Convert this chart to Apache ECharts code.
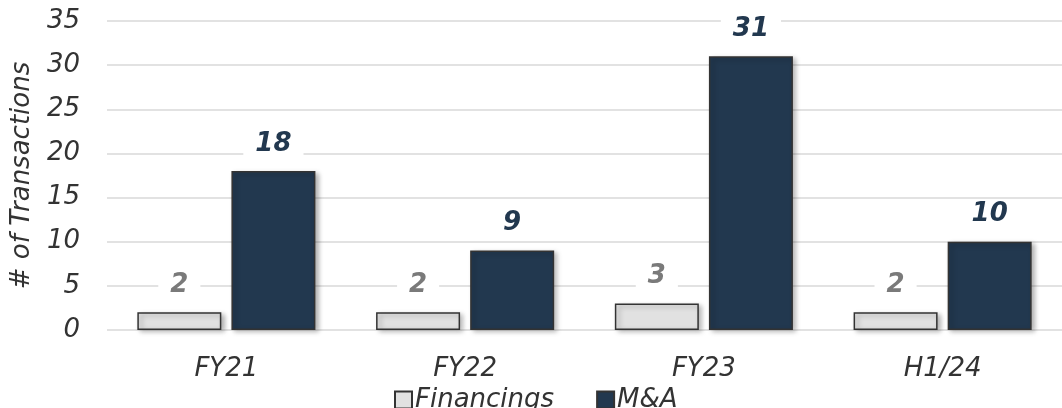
<!DOCTYPE html>
<html><head><meta charset="utf-8">
<script src="https://cdn.jsdelivr.net/npm/echarts@6/dist/echarts.min.js"></script>
<style>html,body{margin:0;padding:0;background:#fff}#c{width:1062px;height:408px}</style>
</head><body><div id="c"></div>
<script>
const categories = ['FY21', 'FY22', 'FY23', 'H1/24'];
const financings = [2, 2, 3, 2];
const mna = [18, 9, 31, 10];
const yTicks = [0, 5, 10, 15, 20, 25, 30, 35];

const FONT = '"DejaVu Sans", sans-serif';
const chart = echarts.init(document.getElementById('c'));
const labelCommon = {
  show: true, position: 'top', distance: 14,
  fontFamily: FONT, fontSize: 26, fontWeight: 'bold', fontStyle: 'italic',
  backgroundColor: '#fff', padding: [0, 12]
};
chart.setOption({
  animation: false,
  grid: { left: 107, right: -5, top: 21, bottom: 78 },
  legend: {
    top: 382, left: 389, itemWidth: 17, itemHeight: 17, itemGap: 42, icon: 'rect',
    textStyle: { fontFamily: FONT, fontSize: 26, fontStyle: 'italic', color: '#333', padding: [0, 0, 0, -2] },
    data: ['Financings', 'M&A']
  },
  xAxis: {
    type: 'category', data: categories,
    axisLine: { show: false }, axisTick: { show: false },
    axisLabel: { fontFamily: FONT, fontSize: 26, fontStyle: 'italic', color: '#333', margin: 26 }
  },
  yAxis: {
    type: 'value', min: yTicks[0], max: yTicks[yTicks.length - 1], interval: 5,
    name: '# of Transactions', nameLocation: 'middle', nameGap: 72, nameRotate: 90,
    nameTextStyle: { fontFamily: FONT, fontSize: 26, fontStyle: 'italic', color: '#333' },
    axisLine: { show: false }, axisTick: { show: false },
    axisLabel: { fontFamily: FONT, fontSize: 26, fontStyle: 'italic', color: '#333', margin: 27 },
    splitLine: { lineStyle: { color: '#d9d9d9', width: 1.5 } }
  },
  series: [
    {
      name: 'Financings', type: 'bar', data: financings, barWidth: 84, barGap: '12%',
      itemStyle: { color: '#e1e1e1', borderColor: '#333', borderWidth: 1.5,
        shadowColor: 'rgba(0,0,0,0.3)', shadowBlur: 5, shadowOffsetX: 3, shadowOffsetY: 2 },
      label: Object.assign({}, labelCommon, { color: '#7a7a7a' })
    },
    {
      name: 'M&A', type: 'bar', data: mna, barWidth: 84,
      itemStyle: { color: '#22384f', borderColor: '#333', borderWidth: 1.5,
        shadowColor: 'rgba(0,0,0,0.3)', shadowBlur: 5, shadowOffsetX: 3, shadowOffsetY: 2 },
      label: Object.assign({}, labelCommon, { color: '#22384f' })
    }
  ]
});
</script></body></html>
